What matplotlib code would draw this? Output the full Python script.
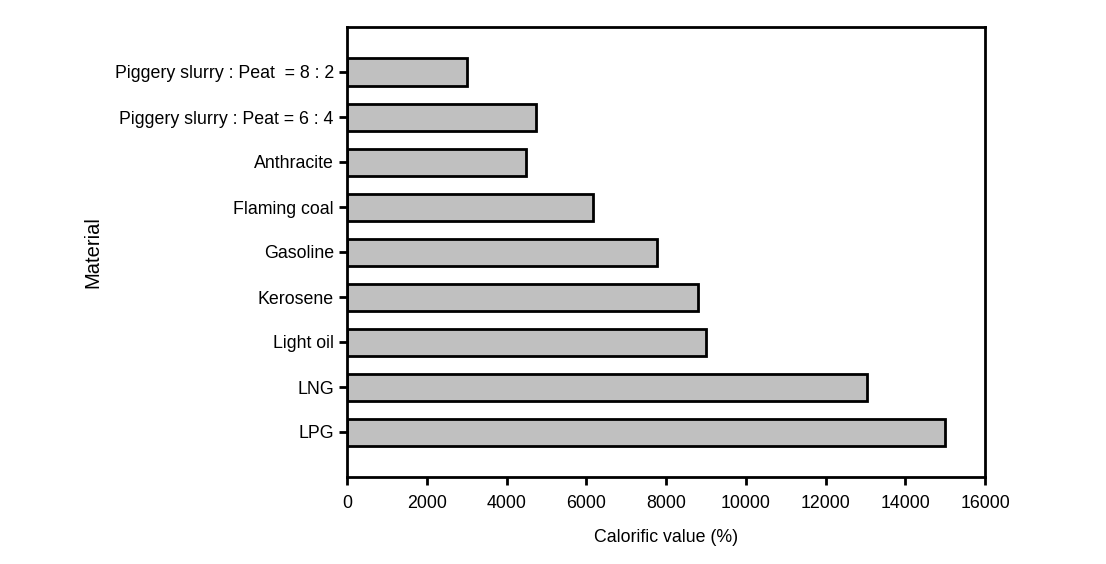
import matplotlib.pyplot as plt

materials = ['LPG', 'LNG', 'Light oil', 'Kerosene', 'Gasoline', 'Flaming coal',
             'Anthracite', 'Piggery slurry : Peat = 6 : 4', 'Piggery slurry : Peat  = 8 : 2']
calorific = [15000, 13030, 9000, 8790, 7780, 6170, 4500, 4740, 3000]
xticks = [0, 2000, 4000, 6000, 8000, 10000, 12000, 14000, 16000]

plt.rcParams['font.family'] = ['Liberation Sans', 'DejaVu Sans']

fig = plt.figure(figsize=(11.06, 5.64), dpi=100)
ax = fig.add_axes([347/1106, 1-477/564, 638/1106, 450/564])

ax.barh(range(len(materials)), calorific, height=0.6, color='#c0c0c0',
        edgecolor='black', linewidth=2)

ax.set_xlim(0, 16000)
ax.set_ylim(-1, len(materials))
ax.set_xticks(xticks)
ax.set_yticks(range(len(materials)))
ax.set_yticklabels(materials)
ax.tick_params(axis='both', labelsize=12.8, width=2, length=6, direction='out')
ax.tick_params(axis='x', pad=7)
for s in ax.spines.values():
    s.set_linewidth(2)

ax.set_xlabel('Calorific value (%)', fontsize=12.8, labelpad=12)
ax.set_ylabel('Material', fontsize=14.5, labelpad=9)

fig.savefig('out.png', dpi=100)
